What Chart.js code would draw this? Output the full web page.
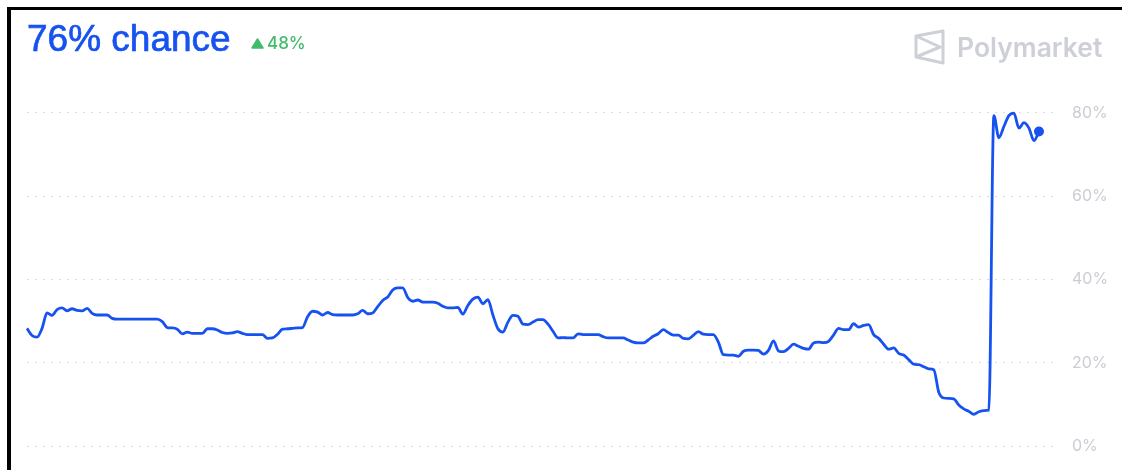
<!DOCTYPE html>
<html>
<head>
<meta charset="utf-8">
<script src="https://cdn.jsdelivr.net/npm/chart.js@4.4.1/dist/chart.umd.min.js"></script>
<style>
  html, body { margin: 0; padding: 0; background: #fff; }
  #wrap { position: relative; width: 1122px; height: 470px; overflow: hidden; }
  #frameTop { position: absolute; left: 7px; top: 7px; width: 1115px; height: 3px; background: #000; }
  #frameLeft { position: absolute; left: 7px; top: 7px; width: 4px; height: 463px; background: #000; }
  #chance { position: absolute; left: 27px; top: 20px; font: 400 37px "Liberation Sans", Arial, sans-serif; line-height: 37px; color: #1652F0; -webkit-text-stroke: 0.7px #1652F0; white-space: nowrap; }
  #change { position: absolute; left: 251px; top: 33px; font: 500 17px Inter, sans-serif; line-height: 20px; color: #40bb6c; white-space: nowrap; }
  #change svg { vertical-align: 0px; margin-right: 3px; }
  #brand { position: absolute; left: 913px; top: 29px; height: 36px; white-space: nowrap; }
  #brand span { position: absolute; left: 44px; top: 2px; font: 600 26.5px Inter, sans-serif; line-height: 32px; color: #cdd0d6; }
  canvas { position: absolute; left: 0; top: 0; }
</style>
</head>
<body>
<div id="wrap">
  <canvas id="probChart" width="1122" height="470"></canvas>
  <div id="frameTop"></div>
  <div id="frameLeft"></div>
  <div id="chance">76% chance</div>
  <div id="change"><svg width="13" height="11" viewBox="0 0 13 11"><path d="M6.5 1 L12 10 L1 10 Z" fill="#40bb6c" stroke="#40bb6c" stroke-width="1.5" stroke-linejoin="round"/></svg>48%</div>
  <div id="brand">
    <svg width="34" height="36" viewBox="0 0 34 36">
      <path d="M3 7 L30 2 L30 34 L3 28 Z M3 7 L27 18 L3 28" fill="none" stroke="#cdd0d6" stroke-width="3" stroke-linejoin="round"/>
    </svg>
    <span>Polymarket</span>
  </div>
</div>
<script>
// probability (%) over time, oldest first
const chanceValues = [
  28.3, 26.6, 26.2, 28.3, 32.0, 31.4, 32.8, 33.2, 32.5, 33.0,
  32.6, 32.5, 33.1, 31.9, 31.5, 31.5, 31.5, 30.7, 30.5, 30.5,
  30.5, 30.5, 30.5, 30.5, 30.5, 30.5, 30.5, 29.9, 28.5, 28.4,
  28.1, 27.0, 27.4, 27.1, 27.1, 27.1, 28.2, 28.2, 27.9, 27.3,
  27.1, 27.2, 27.5, 27.1, 26.8, 26.8, 26.8, 26.8, 25.9, 26.0,
  26.9, 28.1, 28.2, 28.3, 28.4, 28.5, 31.1, 32.4, 32.2, 31.5,
  32.1, 31.6, 31.5, 31.5, 31.5, 31.5, 31.8, 32.6, 31.8, 32.0,
  33.5, 35.0, 35.8, 37.5, 38.0, 38.0, 35.7, 34.8, 35.1, 34.6,
  34.6, 34.6, 34.3, 33.6, 33.2, 33.2, 33.3, 31.7, 33.8, 35.3,
  35.8, 34.2, 35.2, 31.5, 28.2, 27.4, 29.8, 31.4, 31.2, 29.3,
  29.2, 29.8, 30.4, 30.4, 29.3, 27.6, 26.0, 26.1, 26.0, 26.0,
  27.0, 26.8, 26.8, 26.8, 26.8, 26.3, 26.0, 26.0, 26.0, 26.0,
  25.5, 25.0, 24.8, 24.8, 25.5, 26.4, 27.0, 28.0, 27.3, 26.7,
  26.7, 25.9, 25.8, 26.6, 27.5, 26.9, 26.8, 26.8, 25.0, 22.0,
  21.9, 21.9, 21.6, 22.8, 23.1, 23.1, 23.0, 22.1, 23.0, 25.3,
  22.9, 22.7, 23.5, 24.5, 24.0, 23.5, 23.3, 24.8, 25.0, 24.9,
  25.2, 26.7, 28.3, 28.0, 28.0, 29.4, 28.6, 29.0, 29.2, 26.8,
  25.9, 24.5, 23.3, 23.6, 22.3, 21.9, 20.8, 19.7, 19.6, 19.1,
  18.6, 18.4, 13.0, 11.6, 11.5, 11.4, 9.9, 9.0, 8.4, 7.7,
  8.3, 8.6, 8.7, 79.3, 74.0, 76.7, 79.3, 79.9, 76.3, 77.6,
  76.3, 73.3, 75.5
];
const yTicks = [0, 20, 40, 60, 80];

const lineBlue = '#1652F0';
const lastIndex = chanceValues.length - 1;
const points = chanceValues.map((v, i) => ({ x: i, y: v }));

new Chart(document.getElementById('probChart'), {
  type: 'line',
  data: {
    datasets: [{
      data: points,
      borderColor: lineBlue,
      borderWidth: 2.8,
      cubicInterpolationMode: 'monotone',
      pointRadius: ctx => ctx.dataIndex === lastIndex ? 5 : 0,
      pointHoverRadius: 0,
      pointBackgroundColor: lineBlue,
      pointBorderWidth: 0,
      fill: false,
      clip: false
    }]
  },
  options: {
    responsive: false,
    animation: false,
    layout: {
      padding: { left: 27, right: 0, top: 112.7, bottom: 18.3 }
    },
    plugins: {
      legend: { display: false },
      tooltip: { enabled: false }
    },
    scales: {
      x: {
        type: 'linear',
        min: 0,
        max: 205.8,
        display: false
      },
      y: {
        position: 'right',
        min: 0,
        max: 80,
        afterFit: function(scale) { scale.width = 64; },
        afterBuildTicks: function(scale) {
          scale.ticks = yTicks.map(v => ({ value: v }));
        },
        ticks: {
          padding: 14,
          color: '#cacdd3',
          font: { family: 'Inter', size: 16 },
          callback: v => v + '%'
        },
        grid: {
          color: '#d9dce1',
          lineWidth: 1,
          drawTicks: false
        },
        border: {
          display: false,
          dash: [2, 6]
        }
      }
    }
  }
});
</script>
</body>
</html>
